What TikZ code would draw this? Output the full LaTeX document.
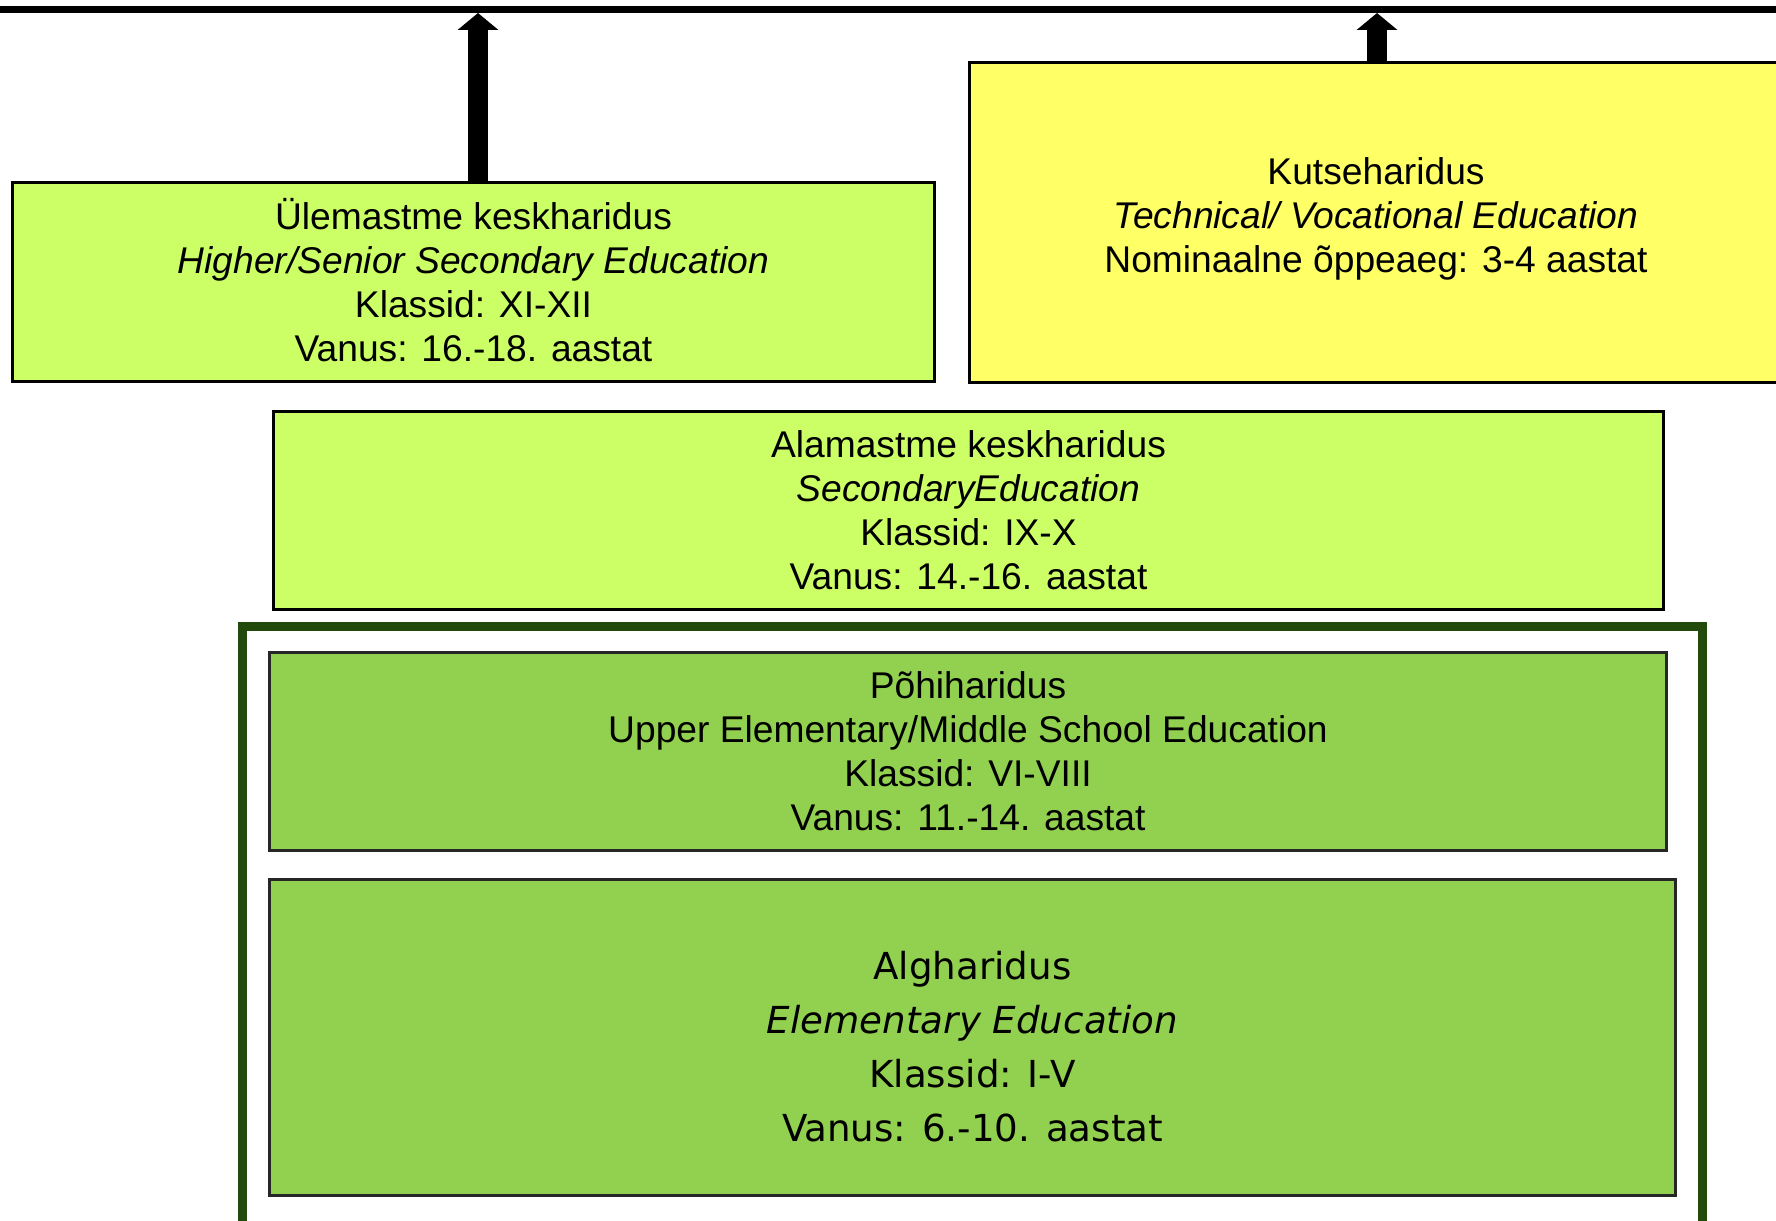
\documentclass[tikz,border=0pt]{standalone}
\usepackage{fontspec}
\setmainfont{Liberation Sans}
\newfontfamily\verdanafont{DejaVu Sans}
\usetikzlibrary{arrows.meta}

\definecolor{seniorlime}{HTML}{CCFF66}
\definecolor{vocyellow}{HTML}{FFFF66}
\definecolor{basicgreen}{HTML}{92D050}
\definecolor{framegreen}{HTML}{224A0B}

\begin{document}
\begin{tikzpicture}[x=0.5pt, y=-0.5pt,
    level/.style={draw=black, line width=1.5pt, inner sep=0pt, align=center,
      font=\fontsize{18.6}{22}\selectfont},
    basic/.style={level, draw=black!85, fill=basicgreen, line width=1.75pt},
    uparrow/.style={line width=10pt, -{Triangle[width=20pt, length=8.5pt]}}]
    \useasboundingbox (0,0) rectangle (1776,1220);
    \clip (0,0) rectangle (1776,1220)
    (0,9.5) coordinate (topL)
    (1776,9.5) coordinate (topR)
    (478,13) coordinate (up1)
    (1377,13) coordinate (up2);

    \fill[white] (0,0) rectangle (1776,1220);

    % top line
    \draw[line width=3.5pt] (topL) -- (topR);

    % upper levels
    \node[level, fill=seniorlime, minimum width=461pt, minimum height=99.5pt]
    (ulem) at (473.5,282) {Ülemastme keskharidus\\
      \textit{Higher/Senior Secondary Education}\\
      Klassid: XI-XII\\
      Vanus: 16.-18. aastat\rule[-2pt]{0pt}{2pt}};

    \node[level, fill=vocyellow, minimum width=406.5pt, minimum height=160pt]
    (kutse) at (1376,222.5) {Kutseharidus\\
      \textit{Technical/ Vocational Education}\\
      Nominaalne õppeaeg: 3-4 aastat\rule[-7.4pt]{0pt}{7.4pt}};

    \node[level, fill=seniorlime, minimum width=695pt, minimum height=99pt]
    (alam) at (968.5,510.5) {Alamastme keskharidus\\
      \textit{SecondaryEducation}\\
      Klassid: IX-X\\
      Vanus: 14.-16. aastat};

    \draw[uparrow] (up1 |- ulem.north) -- (up1);
    \draw[uparrow] (up2 |- kutse.north) -- (up2);

    % basic school frame
    \node[draw=framegreen, line width=4.5pt, inner sep=0pt,
      minimum width=730pt, minimum height=300.75pt]
    (frame) at (972.5,927.25) {};

    \node[basic, minimum width=698.5pt, minimum height=99pt]
    (pohi) at (968,751.5) {Põhiharidus\\
      Upper Elementary/Middle School Education\\
      Klassid: VI-VIII\\
      Vanus: 11.-14. aastat};

    \node[basic, minimum width=703pt, minimum height=158pt,
      font=\verdanafont\fontsize{18.6}{27}\selectfont]
    (alg) at (972.5,1037.5) {\rule{0pt}{23.1pt}Algharidus\\
      \textit{Elementary Education}\\
      Klassid: I-V\\
      Vanus: 6.-10. aastat};

  \end{tikzpicture}
\end{document}
